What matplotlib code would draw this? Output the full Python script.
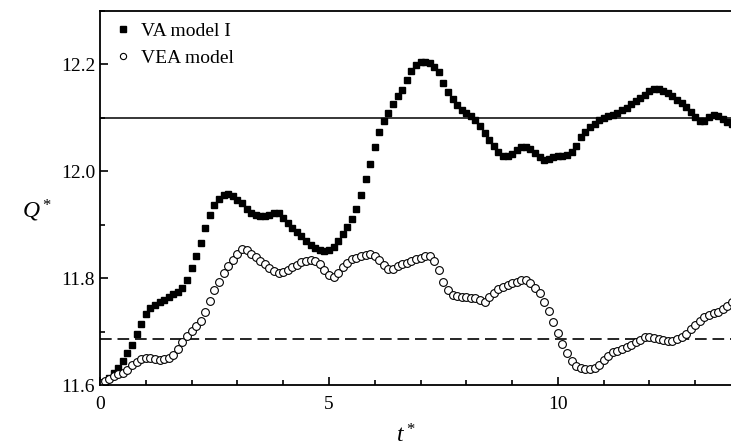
import numpy as np
import matplotlib.pyplot as plt
from matplotlib.ticker import MultipleLocator

plt.rcParams['font.family'] = ['Liberation Serif', 'DejaVu Serif']
plt.rcParams['mathtext.fontset'] = 'custom'
plt.rcParams['mathtext.rm'] = 'Liberation Serif'
plt.rcParams['mathtext.it'] = 'Liberation Serif:italic'

# time samples, dt = 0.1
t = np.round(np.arange(0, 13.85, 0.1), 1)

q_va = [11.600, 11.606, 11.613, 11.622, 11.632, 11.644, 11.659, 11.675, 11.695, 11.714,
        11.733, 11.745, 11.750, 11.755, 11.760, 11.765, 11.770, 11.774, 11.781, 11.797,
        11.819, 11.842, 11.866, 11.894, 11.918, 11.937, 11.949, 11.956, 11.957, 11.953,
        11.947, 11.940, 11.930, 11.922, 11.919, 11.917, 11.917, 11.918, 11.922, 11.922,
        11.912, 11.903, 11.893, 11.886, 11.878, 11.870, 11.862, 11.856, 11.852, 11.851,
        11.853, 11.859, 11.869, 11.883, 11.896, 11.911, 11.930, 11.956, 11.985, 12.014,
        12.045, 12.073, 12.095, 12.110, 12.125, 12.140, 12.153, 12.171, 12.188, 12.198,
        12.204, 12.205, 12.202, 12.195, 12.186, 12.166, 12.149, 12.135, 12.124, 12.114,
        12.109, 12.103, 12.096, 12.084, 12.072, 12.059, 12.047, 12.037, 12.029, 12.029,
        12.033, 12.039, 12.045, 12.046, 12.041, 12.034, 12.026, 12.022, 12.023, 12.026,
        12.028, 12.029, 12.031, 12.036, 12.048, 12.064, 12.074, 12.082, 12.089, 12.096,
        12.100, 12.103, 12.106, 12.110, 12.114, 12.119, 12.125, 12.131, 12.137, 12.143,
        12.150, 12.154, 12.154, 12.151, 12.146, 12.140, 12.134, 12.128, 12.120, 12.111,
        12.101, 12.094, 12.094, 12.102, 12.106, 12.103, 12.097, 12.092, 12.088]

q_vea = [11.603, 11.607, 11.612, 11.616, 11.620, 11.623, 11.629, 11.637, 11.643, 11.648,
         11.650, 11.650, 11.648, 11.647, 11.648, 11.651, 11.657, 11.667, 11.681, 11.692,
         11.702, 11.710, 11.720, 11.736, 11.757, 11.777, 11.793, 11.809, 11.822, 11.834,
         11.846, 11.854, 11.852, 11.846, 11.840, 11.833, 11.826, 11.819, 11.813, 11.810,
         11.811, 11.815, 11.820, 11.825, 11.830, 11.833, 11.834, 11.832, 11.826, 11.815,
         11.805, 11.802, 11.810, 11.820, 11.829, 11.835, 11.838, 11.841, 11.844, 11.845,
         11.842, 11.834, 11.825, 11.817, 11.818, 11.822, 11.826, 11.829, 11.832, 11.835,
         11.838, 11.841, 11.841, 11.832, 11.816, 11.793, 11.777, 11.769, 11.766, 11.765,
         11.764, 11.763, 11.762, 11.760, 11.756, 11.765, 11.773, 11.779, 11.783, 11.787,
         11.790, 11.793, 11.796, 11.797, 11.791, 11.782, 11.772, 11.756, 11.738, 11.717,
         11.697, 11.677, 11.659, 11.645, 11.635, 11.631, 11.630, 11.630, 11.632, 11.638,
         11.647, 11.655, 11.661, 11.664, 11.668, 11.671, 11.675, 11.680, 11.685, 11.689,
         11.689, 11.688, 11.686, 11.684, 11.683, 11.683, 11.686, 11.690, 11.696, 11.704,
         11.712, 11.720, 11.727, 11.731, 11.734, 11.737, 11.742, 11.748, 11.756]

q_steady_va = 12.1
q_steady_vea = 11.686

fig = plt.figure(figsize=(7.31, 4.47), dpi=100)
ax = fig.add_axes([0.1368, 0.1387, 0.8632, 0.8367])

ax.axhline(q_steady_va, color='black', lw=1.1)
ax.axhline(q_steady_vea, color='black', lw=1.2, ls=(0, (7, 3.5)))

ax.plot(t, q_va, ls='none', marker='s', ms=4.6, mfc='black', mec='black',
        label='VA model I')
ax.plot(t, q_vea, ls='none', marker='o', ms=5.6, mfc='white', mec='black',
        mew=0.8, label='VEA model')

ax.set_xlim(0, 13.78)
ax.set_ylim(11.6, 12.3)
ax.xaxis.set_major_locator(MultipleLocator(5))
ax.xaxis.set_minor_locator(MultipleLocator(1))
ax.yaxis.set_minor_locator(MultipleLocator(0.1))
ax.set_yticks([11.6, 11.8, 12.0, 12.2])
ax.set_yticklabels(['11.6', '11.8', '12.0', '12.2'])
ax.tick_params(which='both', direction='in', labelsize=14, width=1.2,
               top=False, right=False)
ax.tick_params(which='major', length=6)
ax.tick_params(which='minor', length=3.5)
ax.tick_params(axis='x', pad=8)

for s in ['left', 'bottom', 'top']:
    ax.spines[s].set_linewidth(1.3)
ax.spines['right'].set_visible(False)

ax.set_xlabel('$t^*$', fontsize=17)
ax.xaxis.set_label_coords(0.485, -0.105)
ax.set_ylabel('$Q^*$', fontsize=17, rotation=0, va='center')
ax.yaxis.set_label_coords(-0.1, 0.465)

leg = ax.legend(loc='upper left', bbox_to_anchor=(0.006, 1.0), frameon=False,
                fontsize=14, handlelength=0.8, handletextpad=0.5,
                borderaxespad=0.2, labelspacing=0.45, markerscale=0.8)

fig.savefig('out.png', dpi=100)
